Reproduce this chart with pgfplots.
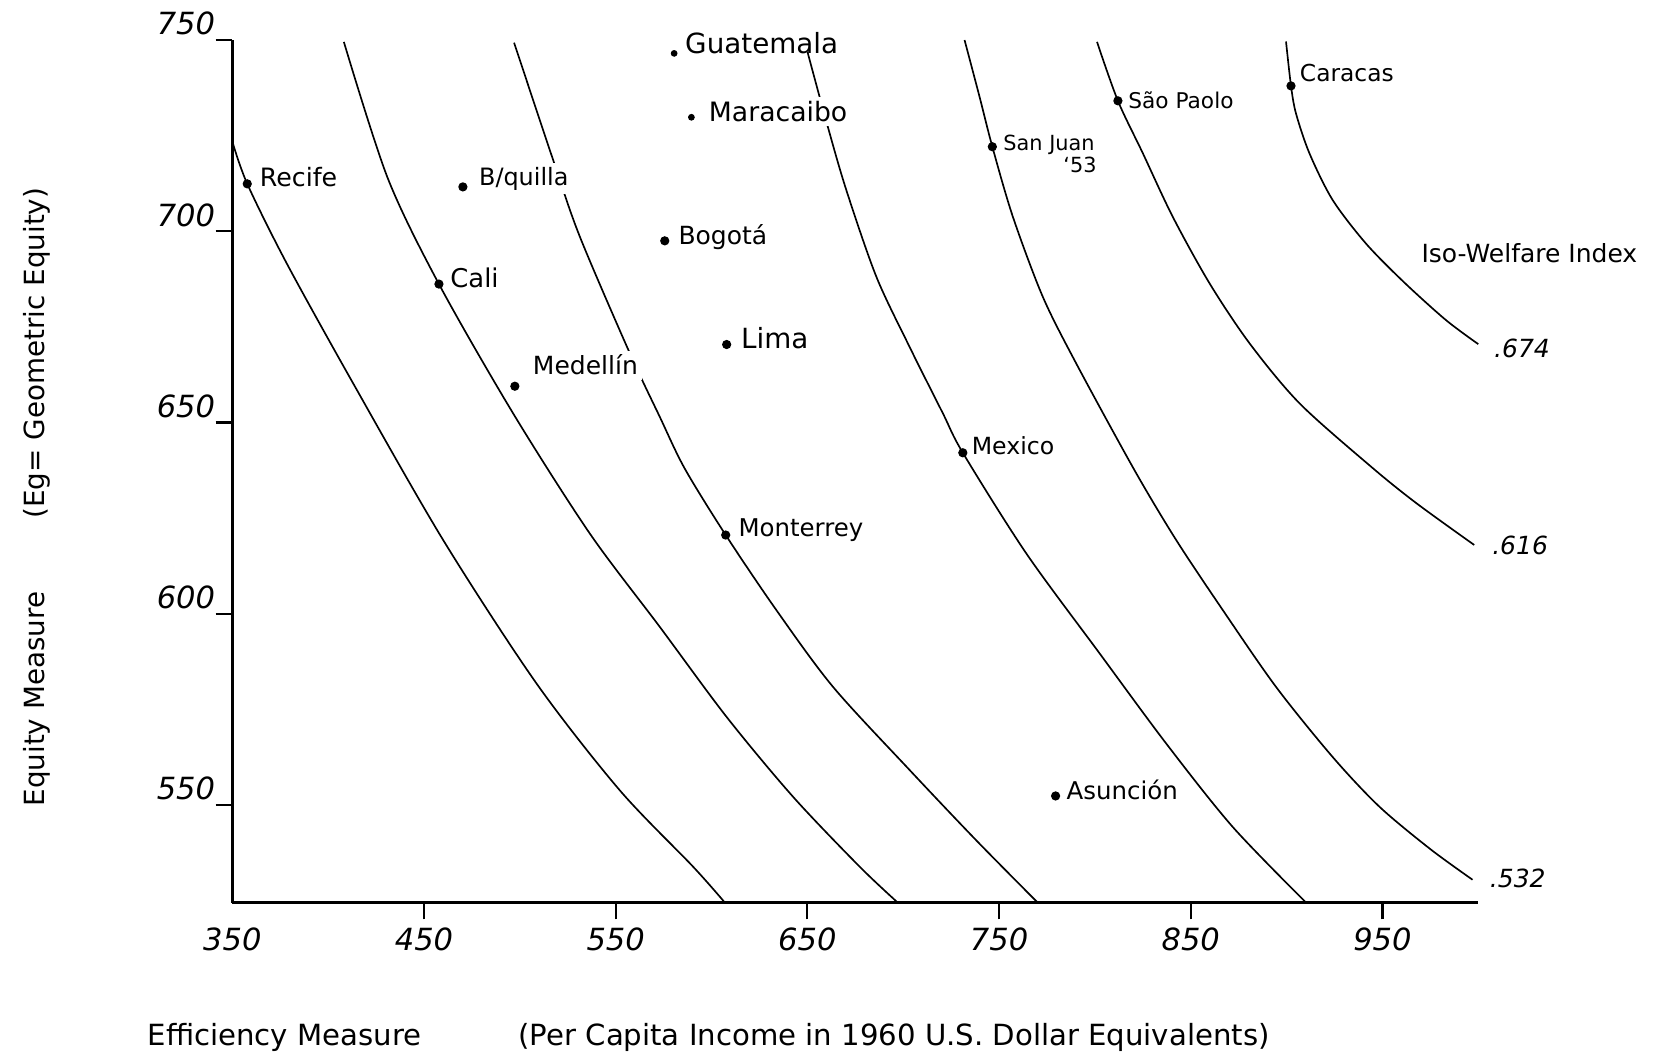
\documentclass[border=0pt]{standalone}
\usepackage{fontspec}
\setmainfont{DejaVu Sans}
\usepackage{pgfplots}
\pgfplotsset{compat=1.18}
\newcommand{\fs}[1]{\fontsize{#1}{#1}\selectfont}
\begin{document}
\begin{tikzpicture}
\useasboundingbox (-83.63pt,-57.35pt) rectangle (516.85pt,324.97pt);
\begin{axis}[
  scale only axis, width=448.56pt, height=310.57pt,
  xmin=350, xmax=1000, ymin=524.5, ymax=750,
  axis x line*=bottom, axis y line*=left,
  axis line style={line width=0.9pt},
  xtick={450,550,650,750,850,950},
  extra x ticks={350}, extra x tick style={tick style={draw=none}},
  ytick={550,600,650,700,750},
  tick align=outside, major tick length=6pt,
  tick style={line width=0.8pt, black},
  ticklabel style={font=\fs{11}\itshape},
  /pgf/number format/assume math mode=true,
  /pgf/number format/1000 sep={},
  yticklabel style={anchor=south east, inner sep=0pt, yshift=1.5pt},
  xticklabel style={inner sep=0pt, yshift=-3pt},
  clip=false,
  iso/.style={black, mark=none, smooth, tension=0.5, line width=0.6pt},
]
% Iso-welfare curves
\addplot[iso] coordinates {
(350.0,723.5) (357.8,712.4) (378.4,691.6) (413.1,660.2) (460.0,619.3) (508.7,581.8)
(552.1,553.9) (590.4,533.9) (607.0,524.5)};
\addplot[iso] coordinates {
(408.2,749.5) (431.0,714.0) (457.8,686.2) (496.5,652.4) (536.5,621.0) (573.0,596.6)
(607.8,573.1) (642.5,552.2) (677.3,533.9) (697.2,524.5)};
\addplot[iso] coordinates {
(497.0,749.3) (517.4,718.6) (531.3,698.6) (557.4,668.1) (573.0,651.5) (586.0,638.0)
(607.4,620.6) (633.8,601.0) (663.4,580.9) (703.3,559.2) (738.1,540.8) (770.2,524.5)};
\addplot[iso] coordinates {
(650.0,747.0) (660.4,727.8) (670.3,710.8) (686.0,688.1) (703.3,669.8) (720.7,652.4)
(731.1,642.1) (764.2,615.8) (802.4,589.7) (837.2,566.1) (871.9,544.3) (910.2,524.5)};
\addplot[iso] coordinates {
(732.0,750.0) (739.8,735.2) (746.5,722.1) (757.2,703.8) (772.8,682.9) (790.2,665.5)
(820.6,637.6) (842.4,619.3) (866.7,601.0) (894.5,580.9) (924.0,562.6) (948.4,549.6)
(975.0,538.5) (997.0,530.5)};
\addplot[iso] coordinates {
(801.1,749.5) (812.0,734.1) (825.0,720.4) (840.6,703.8) (859.8,686.4) (880.7,670.7)
(906.8,655.0) (944.0,638.5) (967.5,629.0) (997.9,618.0)};
\addplot[iso] coordinates {
(899.7,749.6) (902.3,738.0) (904.9,730.8) (911.9,720.4) (924.0,708.2) (941.4,696.8)
(961.0,686.8) (983.1,676.8) (1000.0,670.5)};
% Cities
\addplot[black, only marks, mark=*, mark size=1.45pt] coordinates {
(357.8,712.4) (470.3,711.6) (457.8,686.2) (497.4,659.5) (575.6,697.5) (607.9,670.4)
(746.5,722.1) (731.1,642.1) (607.4,620.6) (779.5,552.4) (812.0,734.1) (902.3,738.0)};
\addplot[black, only marks, mark=*, mark size=1.0pt] coordinates {
(580.5,746.5) (589.5,729.8)};
% City labels
\node[anchor=west, inner sep=0pt, font=\fs{9.1}] at (axis cs:364.1,714.1) {Recife};
\node[anchor=west, inner sep=1.5pt, fill=white, font=\fs{8.6}] at (axis cs:476.3,713.8) {B/quilla};
\node[anchor=west, inner sep=0pt, font=\fs{9.3}] at (axis cs:463.5,687.7) {Cali};
\node[anchor=west, inner sep=1.5pt, fill=white, font=\fs{9}] at (axis cs:504.4,665.0) {Medellín};
\node[anchor=west, inner sep=0pt, font=\fs{10}] at (axis cs:586.0,749.3) {Guatemala};
\node[anchor=west, inner sep=1.5pt, fill=white, font=\fs{9.6}] at (axis cs:596.2,731.4) {Maracaibo};
\node[anchor=west, inner sep=0pt, font=\fs{9}] at (axis cs:582.5,698.6) {Bogotá};
\node[anchor=west, inner sep=0pt, font=\fs{10}] at (axis cs:615.2,672.0) {Lima};
\node[anchor=west, inner sep=0pt, font=\fs{7.5}] at (axis cs:752.0,722.7) {San Juan};
\node[anchor=west, inner sep=0pt, font=\fs{7.5}] at (axis cs:783.3,717.3) {‘53};
\node[anchor=west, inner sep=0pt, font=\fs{8.5}] at (axis cs:735.5,643.9) {Mexico};
\node[anchor=west, inner sep=0pt, font=\fs{8.8}] at (axis cs:613.8,621.9) {Monterrey};
\node[anchor=west, inner sep=0pt, font=\fs{8.8}] at (axis cs:785.0,553.9) {Asunción};
\node[anchor=west, inner sep=0pt, font=\fs{7.8}] at (axis cs:817.2,734.3) {São Paolo};
\node[anchor=west, inner sep=0pt, font=\fs{8.4}] at (axis cs:906.7,741.3) {Caracas};
% Index labels
\node[anchor=west, inner sep=0pt, font=\fs{9}] at (axis cs:970.1,694.2) {Iso-Welfare Index};
\node[anchor=west, inner sep=0pt, font=\fs{9}\itshape] at (axis cs:1008.0,669.4) {.674};
\node[anchor=west, inner sep=0pt, font=\fs{9}\itshape] at (axis cs:1007.0,618.0) {.616};
\node[anchor=west, inner sep=0pt, font=\fs{9}\itshape] at (axis cs:1005.8,530.8) {.532};
% Axis titles
\node[anchor=west, inner sep=0pt, font=\fs{10.5}] at (rel axis cs:-0.0684,-0.1557) {Efficiency Measure};
\node[anchor=west, inner sep=0pt, font=\fs{10.5}] at (rel axis cs:0.2293,-0.1557) {(Per Capita Income in 1960 U.S. Dollar Equivalents)};
\node[rotate=90, inner sep=0pt, font=\fs{10}] at (rel axis cs:-0.1567,0.236) {Equity Measure};
\node[rotate=90, inner sep=0pt, font=\fs{10}] at (rel axis cs:-0.1567,0.637) {(Eg= Geometric Equity)};
\end{axis}
\end{tikzpicture}
\end{document}
